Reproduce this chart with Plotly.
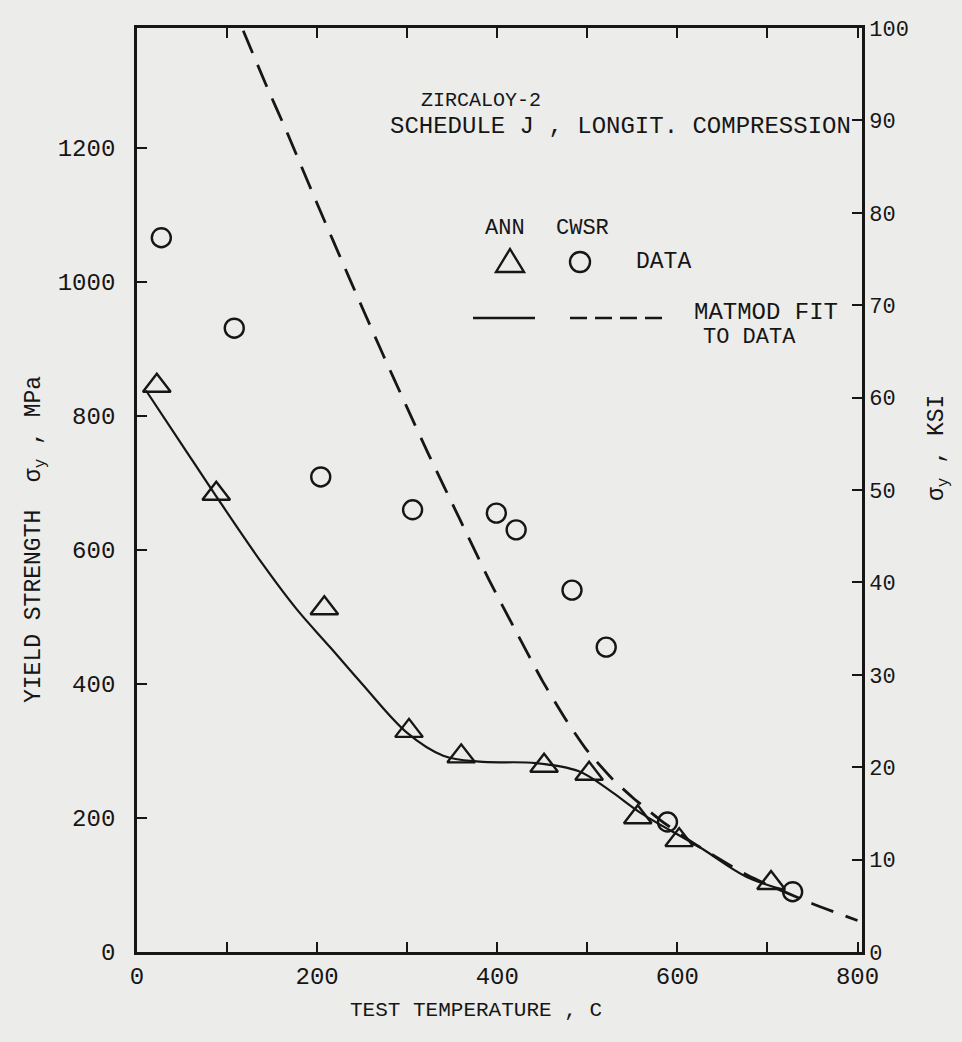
import plotly.graph_objects as go

# ---- data ----
ann_temp = [22, 88, 208, 302, 360, 452, 502, 556, 602, 704]
ann_ys = [845, 684, 513, 330, 292, 278, 266, 201, 167, 103]

cwsr_temp = [27, 108, 204, 306, 399, 421, 483, 521, 589, 728]
cwsr_ys = [1066, 931, 709, 660, 655, 630, 540, 455, 194, 90]

ann_fit_temp = [10, 50, 88, 140, 177, 215, 250, 300, 340, 380, 443, 490, 524, 560, 624, 677, 720]
ann_fit_ys = [838, 757, 680, 578, 512, 454, 400, 327, 293, 284, 282, 270, 242, 207, 157, 112, 92]

cwsr_fit_temp = [118, 143, 166, 199, 236, 272, 299, 324, 358, 391, 421, 450, 477, 499, 528, 550, 580, 617, 654, 680, 750, 800]
cwsr_fit_ys = [1375, 1295, 1225, 1120, 1005, 895, 815, 742, 647, 555, 478, 405, 345, 302, 258, 231, 198, 163, 133, 113, 72, 47]

x_major_ticks = [0, 200, 400, 600, 800]
x_minor_ticks = [100, 300, 500, 700]
y_ticks = [0, 200, 400, 600, 800, 1000, 1200]
ksi_ticks = [0, 10, 20, 30, 40, 50, 60, 70, 80, 90, 100]

INK = "#161616"
BG = "#ececea"
FONT = "Liberation Mono"

fig = go.Figure()

fig.add_trace(go.Scatter(x=ann_fit_temp, y=ann_fit_ys, mode="lines",
                         line=dict(color=INK, width=2.2, shape="spline", smoothing=1.0),
                         showlegend=False, hoverinfo="skip"))
fig.add_trace(go.Scatter(x=cwsr_fit_temp, y=cwsr_fit_ys, mode="lines",
                         line=dict(color=INK, width=2.8, dash="24px,13px", shape="spline", smoothing=0.5),
                         showlegend=False, hoverinfo="skip"))
fig.add_trace(go.Scatter(x=ann_temp, y=ann_ys, mode="markers",
                         marker=dict(symbol="triangle-up-open", size=24, color=INK, line=dict(width=2.4, color=INK)),
                         showlegend=False))
fig.add_trace(go.Scatter(x=cwsr_temp, y=cwsr_ys, mode="markers",
                         marker=dict(symbol="circle-open", size=19, color=INK, line=dict(width=2.4, color=INK)),
                         showlegend=False))
# invisible trace to activate the right-hand KSI axis
fig.add_trace(go.Scatter(x=[None], y=[None], yaxis="y2", showlegend=False, hoverinfo="skip"))

fig.update_layout(
    width=962, height=1042,
    margin=dict(l=137, r=100, t=28, b=90),
    paper_bgcolor=BG, plot_bgcolor=BG,
    font=dict(family=FONT, size=22, color=INK),
    xaxis=dict(range=[0, 805], tickvals=x_major_ticks, ticks="inside", ticklen=10,
               tickwidth=2, tickcolor=INK, showline=True, linewidth=2.8, linecolor=INK,
               mirror="ticks", showgrid=False, zeroline=False,
               minor=dict(tickvals=x_minor_ticks, ticks="inside", ticklen=10, tickwidth=2, tickcolor=INK,
                          showgrid=False),
               tickfont=dict(size=24)),
    yaxis=dict(range=[0, 1379], tickvals=y_ticks, ticks="inside", ticklen=10, tickwidth=2,
               tickcolor=INK, showline=True, linewidth=2.8, linecolor=INK, showgrid=False,
               zeroline=False, tickfont=dict(size=24), ticklabelstandoff=14),
    yaxis2=dict(range=[0, 100], tickvals=ksi_ticks, overlaying="y", side="right", ticks="inside",
                ticklen=10, tickwidth=2, tickcolor=INK, showline=True, linewidth=2.8, linecolor=INK,
                showgrid=False, zeroline=False, tickfont=dict(size=22)),
)

def px(x):
    return (x - 137) / 725.0

def py(y):
    return (952 - y) / 924.0

annots = [
    dict(text="ZIRCALOY-2", x=px(481), y=py(100), xanchor="center", size=20),
    dict(text="SCHEDULE J , LONGIT. COMPRESSION", x=px(853), y=py(127), xanchor="right", size=24),
    dict(text="ANN", x=px(505), y=py(228), xanchor="center", size=22),
    dict(text="CWSR", x=px(582), y=py(228), xanchor="center", size=22),
    dict(text="DATA", x=px(634), y=py(262), xanchor="left", size=23),
    dict(text="MATMOD FIT", x=px(692), y=py(312), xanchor="left", size=24),
    dict(text="TO DATA", x=px(701), y=py(337), xanchor="left", size=22),
]
for a in annots:
    s = a.pop("size")
    fig.add_annotation(xref="paper", yref="paper", yanchor="middle", showarrow=False,
                       font=dict(family=FONT, size=s, color=INK), **a)

# axis titles
fig.add_annotation(xref="paper", yref="paper", x=px(476), y=py(1010), xanchor="center", yanchor="middle",
                   showarrow=False, text="TEST TEMPERATURE , C", font=dict(family=FONT, size=21, color=INK))
fig.add_annotation(xref="paper", yref="paper", x=px(35), y=py(540), xanchor="center", yanchor="middle",
                   textangle=-90, showarrow=False, text="YIELD STRENGTH  σ<sub>y</sub> , MPa",
                   font=dict(family=FONT, size=23, color=INK))
fig.add_annotation(xref="paper", yref="paper", x=px(938), y=py(448), xanchor="center", yanchor="middle",
                   textangle=-90, showarrow=False, text="σ<sub>y</sub> , KSI",
                   font=dict(family=FONT, size=23, color=INK))

# legend samples (paper coordinates)
tri_cx, tri_cy = 510, 262
fig.add_shape(type="path", xref="paper", yref="paper",
              path=f"M {px(tri_cx-14)} {py(tri_cy+10)} L {px(tri_cx+14)} {py(tri_cy+10)} L {px(tri_cx)} {py(tri_cy-13)} Z",
              line=dict(color=INK, width=2.4))
fig.add_shape(type="circle", xref="paper", yref="paper",
              x0=px(580 - 10), x1=px(580 + 10), y0=py(262 + 10), y1=py(262 - 10),
              line=dict(color=INK, width=2.4))
fig.add_shape(type="line", xref="paper", yref="paper", x0=px(473), x1=px(535), y0=py(318), y1=py(318),
              line=dict(color=INK, width=2.4))
fig.add_shape(type="line", xref="paper", yref="paper", x0=px(570), x1=px(668), y0=py(318), y1=py(318),
              line=dict(color=INK, width=2.4, dash="17px,8px"))

fig.write_html("out.html", config={"displayModeBar": False},
               post_script="document.body.style.margin='0';document.body.style.background='#ececea';")
